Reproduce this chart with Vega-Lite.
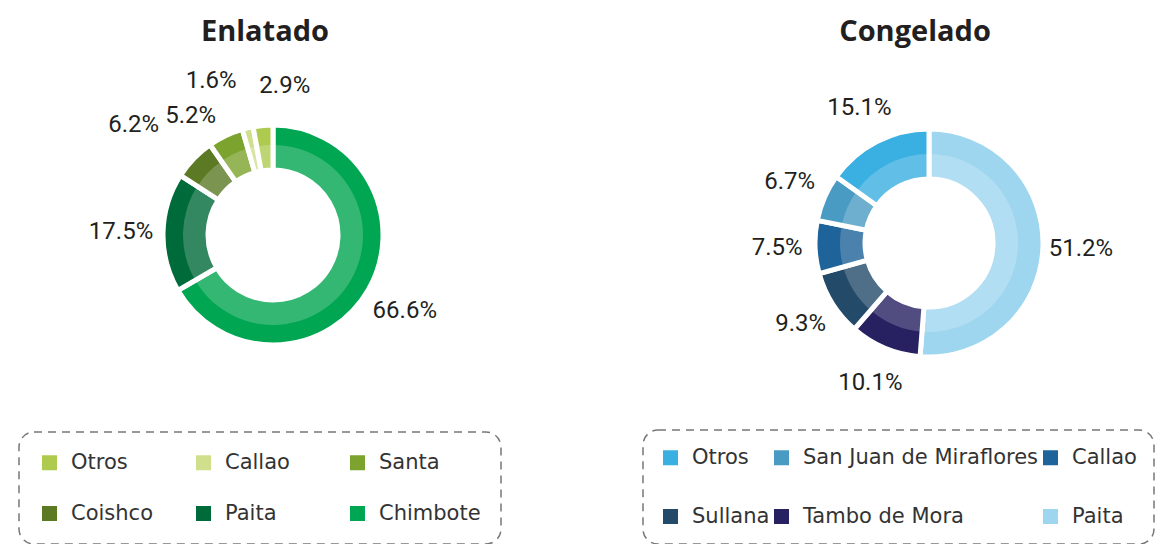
{
  "$schema": "https://vega.github.io/schema/vega-lite/v6.json",
  "background": "white",
  "padding": {"left": 0, "top": 18, "right": 0, "bottom": 0},
  "bounds": "flush",
  "spacing": 140,
  "config": {
    "view": {"stroke": null},
    "legend": {
      "orient": "none",
      "direction": "horizontal",
      "columns": 3,
      "symbolType": "square",
      "symbolSize": 225,
      "symbolStrokeWidth": 0,
      "labelFont": "DejaVu Sans",
      "labelFontSize": 21,
      "labelColor": "#333333",
      "labelOffset": 11,
      "labelLimit": 400,
      "strokeColor": "#777777",
      "strokeDash": [8, 6],
      "strokeWidth": 1.5,
      "cornerRadius": 15
    }
  },
  "hconcat": [
    {
      "width": 546,
      "height": 342,
      "title": {"text": "Enlatado", "font": "Open Sans", "fontSize": 29, "fontWeight": "bold", "color": "#231F20", "anchor": "middle", "frame": "group", "offset": 17, "dx": -8},
      "data": {"values": [
        {"destino": "Chimbote", "share": 0.666},
        {"destino": "Paita", "share": 0.175},
        {"destino": "Coishco", "share": 0.062},
        {"destino": "Santa", "share": 0.052},
        {"destino": "Callao", "share": 0.016},
        {"destino": "Otros", "share": 0.029}
      ]},
      "transform": [{"window": [{"op": "row_number", "as": "orden"}]}],
      "encoding": {
        "theta": {"field": "share", "type": "quantitative", "stack": true},
        "order": {"field": "orden", "type": "quantitative"}
      },
      "layer": [
        {
          "mark": {"type": "arc", "radius": 110, "radius2": 65, "stroke": "white", "strokeWidth": 5},
          "encoding": {
            "color": {
              "field": "destino", "type": "nominal",
              "scale": {"domain": ["Otros", "Callao", "Santa", "Coishco", "Paita", "Chimbote"], "range": ["#AECB50", "#D0DF8C", "#7BA32E", "#5B7A23", "#006B3A", "#00A651"]},
              "legend": {"title": null, "orient": "none", "legendX": 19, "legendY": 368, "gridAlign": "all", "columnPadding": 20, "rowPadding": 29, "padding": 20,
                "encode": {"symbols": {"update": {"strokeWidth": {"value": 0}}}, "legend": {"update": {"strokeDash": {"value": [8, 6]}, "strokeWidth": {"value": 1.5}}}}}
            }
          }
        },
        {
          "mark": {"type": "arc", "radius": 90, "radius2": 65, "fill": "white", "fillOpacity": 0.2},
          "encoding": {"detail": {"field": "destino"}}
        },
        {
          "mark": {"type": "text", "radius": 152, "font": "Roboto", "fontSize": 24, "color": "#231F20", "align": "center"},
          "encoding": {
            "detail": {"field": "destino"},
            "text": {"field": "share", "type": "quantitative", "format": ".1%", "condition": {"test": "datum.destino !== 'Chimbote' && datum.destino !== 'Paita'", "value": ""}}
          }
        },
        {
          "mark": {"type": "text", "radius": 158, "font": "Roboto", "fontSize": 24, "color": "#231F20", "align": "right"},
          "encoding": {
            "detail": {"field": "destino"},
            "text": {"field": "share", "type": "quantitative", "format": ".1%", "condition": {"test": "datum.destino !== 'Coishco' && datum.destino !== 'Callao'", "value": ""}}
          }
        },
        {
          "mark": {"type": "text", "radius": 132, "font": "Roboto", "fontSize": 24, "color": "#231F20", "align": "right"},
          "encoding": {
            "detail": {"field": "destino"},
            "text": {"field": "share", "type": "quantitative", "format": ".1%", "condition": {"test": "datum.destino !== 'Santa'", "value": ""}}
          }
        },
        {
          "mark": {"type": "text", "radius": 150, "font": "Roboto", "fontSize": 24, "color": "#231F20", "align": "left"},
          "encoding": {
            "detail": {"field": "destino"},
            "text": {"field": "share", "type": "quantitative", "format": ".1%", "condition": {"test": "datum.destino !== 'Otros'", "value": ""}}
          }
        }
      ]
    },
    {
      "width": 486,
      "height": 358,
      "title": {"text": "Congelado", "font": "Open Sans", "fontSize": 29, "fontWeight": "bold", "color": "#231F20", "anchor": "middle", "frame": "group", "offset": 17, "dx": -14},
      "data": {"values": [
        {"destino": "Paita", "share": 0.512},
        {"destino": "Tambo de Mora", "share": 0.101},
        {"destino": "Sullana", "share": 0.093},
        {"destino": "Callao", "share": 0.075},
        {"destino": "San Juan de Miraflores", "share": 0.067},
        {"destino": "Otros", "share": 0.151}
      ]},
      "transform": [{"window": [{"op": "row_number", "as": "orden"}]}],
      "encoding": {
        "theta": {"field": "share", "type": "quantitative", "stack": true},
        "order": {"field": "orden", "type": "quantitative"}
      },
      "layer": [
        {
          "mark": {"type": "arc", "radius": 114, "radius2": 64, "stroke": "white", "strokeWidth": 5},
          "encoding": {
            "color": {
              "field": "destino", "type": "nominal",
              "scale": {"domain": ["Otros", "San Juan de Miraflores", "Callao", "Sullana", "Tambo de Mora", "Paita"], "range": ["#3AAFE1", "#4A9BC3", "#1E6399", "#244A6A", "#272162", "#9ED6F0"]},
              "legend": {"title": null, "orient": "none", "legendX": -43, "legendY": 366, "gridAlign": "each", "columnPadding": 1, "rowPadding": 37, "padding": 17,
                "encode": {"symbols": {"update": {"strokeWidth": {"value": 0}}}, "legend": {"update": {"strokeDash": {"value": [8, 6]}, "strokeWidth": {"value": 1.5}}}}}
            }
          }
        },
        {
          "mark": {"type": "arc", "radius": 89, "radius2": 64, "fill": "white", "fillOpacity": 0.2},
          "encoding": {"detail": {"field": "destino"}}
        },
        {
          "mark": {"type": "text", "radius": 152, "font": "Roboto", "fontSize": 24, "color": "#231F20", "align": "center"},
          "encoding": {
            "detail": {"field": "destino"},
            "text": {"field": "share", "type": "quantitative", "format": ".1%"}
          }
        }
      ]
    }
  ],
  "resolve": {"scale": {"color": "independent", "theta": "independent"}, "legend": {"color": "independent"}}
}
